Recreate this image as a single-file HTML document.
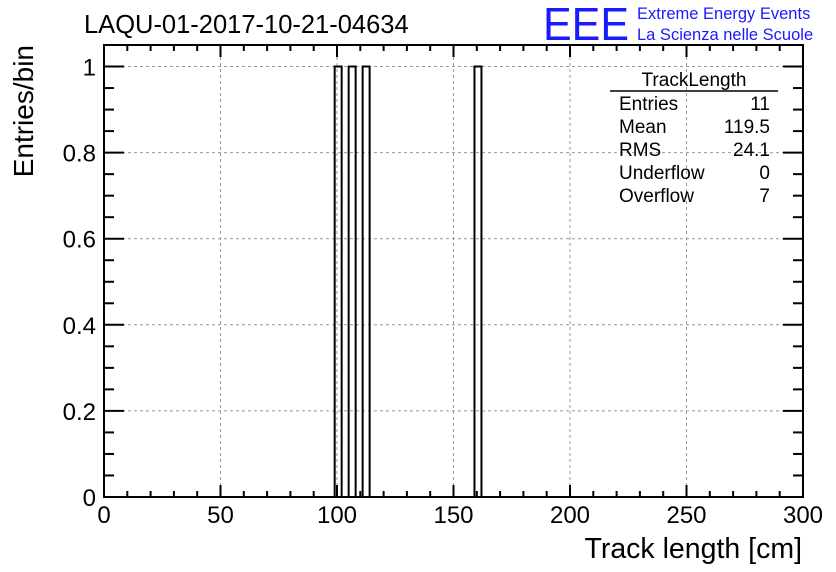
<!DOCTYPE html>
<html><head><meta charset="utf-8"><style>
body{margin:0;background:#fff;}
svg{display:block;font-family:"Liberation Sans",Arial,sans-serif;}
</style></head><body>
<svg id="c" width="836" height="572" viewBox="0 0 836 572">
<rect width="836" height="572" fill="#fff"/>
<g id="grid"></g>
<g id="bars"></g>
<g id="axes"></g>
<text x="84" y="33" font-size="25.5">LAQU-01-2017-10-21-04634</text>
<text x="543" y="40" font-size="46" fill="#1a1aff" textLength="86" lengthAdjust="spacingAndGlyphs">EEE</text>
<text x="637" y="19" font-size="16.5" fill="#1a1aff">Extreme Energy Events</text>
<text x="637" y="40" font-size="16.5" fill="#1a1aff">La Scienza nelle Scuole</text>
<text x="33" y="45" font-size="28" transform="rotate(-90 33 45)" text-anchor="end">Entries/bin</text>
<text x="802" y="558" font-size="28.5" text-anchor="end">Track length [cm]</text>
<g font-size="19">
<text x="694" y="86" text-anchor="middle">TrackLength</text>
<line x1="610" y1="91" x2="778" y2="91" stroke="#000" stroke-width="1.5"/>
<text x="619" y="110">Entries</text><text x="770" y="110" text-anchor="end">11</text>
<text x="619" y="133">Mean</text><text x="770" y="133" text-anchor="end">119.5</text>
<text x="619" y="156">RMS</text><text x="770" y="156" text-anchor="end">24.1</text>
<text x="619" y="179">Underflow</text><text x="770" y="179" text-anchor="end">0</text>
<text x="619" y="202">Overflow</text><text x="770" y="202" text-anchor="end">7</text>
</g>
</svg>
<script>
const binLow = [99, 105, 111, 159];
const binCounts = [1, 1, 1, 1];
const binWidth = 3;
const xTicks = [0, 50, 100, 150, 200, 250, 300];
const yTicks = [0, 0.2, 0.4, 0.6, 0.8, 1];
const yTickLabels = ["0", "0.2", "0.4", "0.6", "0.8", "1"];

const L=104,R=803,T=45,B=497;
const xMin=0,xMax=300,yMin=0,yMax=1.05;
const sx=v=>L+(v-xMin)/(xMax-xMin)*(R-L);
const sy=v=>B-(v-yMin)/(yMax-yMin)*(B-T);
const NS="http://www.w3.org/2000/svg";
function mk(tag,attrs,parent){const e=document.createElementNS(NS,tag);for(const k in attrs)e.setAttribute(k,attrs[k]);parent.appendChild(e);return e;}
const grid=document.getElementById('grid'),bars=document.getElementById('bars'),axes=document.getElementById('axes');
xTicks.forEach(v=>{if(v>xMin&&v<xMax){const l=mk('line',{x1:sx(v),x2:sx(v),y1:T,y2:B,stroke:'#999','stroke-dasharray':'3,3','stroke-width':1},grid);}});
yTicks.forEach(v=>{if(v>yMin){const l=mk('line',{x1:L,x2:R,y1:sy(v),y2:sy(v),stroke:'#999','stroke-dasharray':'3,3','stroke-width':1},grid);}});
binLow.forEach((lo,i)=>{
 const x0=sx(lo),x1=sx(lo+binWidth),y=sy(binCounts[i]);
 const p=mk('path',{d:`M${x0},${B} L${x0},${y} L${x1},${y} L${x1},${B}`,fill:'none',stroke:'#000','stroke-width':2},bars);
 
 
});
mk('rect',{x:L,y:T,width:R-L,height:B-T,fill:'none',stroke:'#000','stroke-width':2},axes);
for(let v=xMin;v<=xMax;v+=10){const major=v%50===0;const len=major?12:6;
 mk('line',{x1:sx(v),x2:sx(v),y1:B,y2:B-len,stroke:'#000','stroke-width':2},axes);
 mk('line',{x1:sx(v),x2:sx(v),y1:T,y2:T+len,stroke:'#000','stroke-width':2},axes);}
xTicks.forEach(v=>{const t=mk('text',{x:sx(v),y:B+26,'font-size':24,'text-anchor':'middle'},axes);t.textContent=String(v);});
for(let k=0;k<=21;k++){const v=k*0.05;const major=k%4===0;const len=major?20:10;
 mk('line',{x1:L,x2:L+len,y1:sy(v),y2:sy(v),stroke:'#000','stroke-width':2},axes);
 mk('line',{x1:R,x2:R-len,y1:sy(v),y2:sy(v),stroke:'#000','stroke-width':2},axes);}
yTicks.forEach((v,i)=>{const t=mk('text',{x:L-8,y:sy(v)+9,'font-size':24,'text-anchor':'end'},axes);t.textContent=yTickLabels[i];});
</script>
</body></html>
